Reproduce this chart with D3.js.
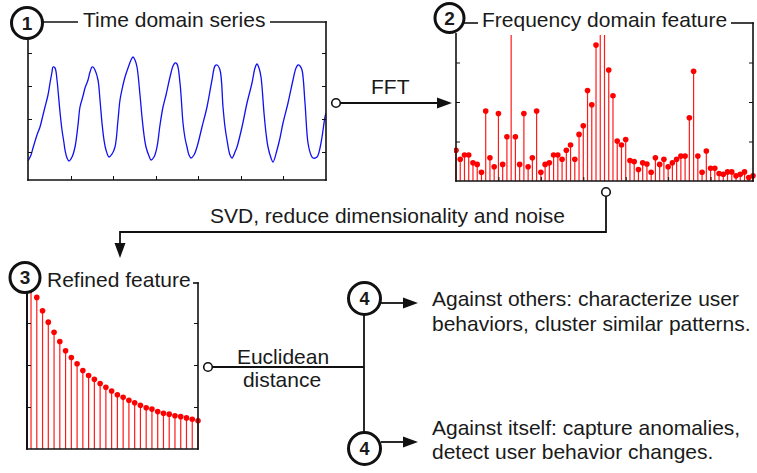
<!DOCTYPE html>
<html><head><meta charset="utf-8">
<script src="https://cdn.jsdelivr.net/npm/d3@7"></script>
<style>
body{margin:0;background:#fff}
svg{display:block}
text{font-family:"Liberation Sans",Arial,Helvetica,sans-serif;fill:#1a1a1a}
</style>
</head><body>
<svg id="c" width="757" height="473"></svg>
<script>
// ---------- data ----------
// Panel 1: time domain series (sample index, amplitude)
const timeSeries = [
[0,19],[3,25],[5,32],[9,45],[12,53],[15,65],[17,73],[20,85],[22,97],[24,108],[25,113],[27,112],[29,100],[30,90],[32,68],[34,50],[36,37],[37,30],[39,22],[41,19],
[44,23],[47,33],[50,55],[52,73],[55,84],[57,92],[60,100],[62,108],[64,113],[65,113],[67,110],[70,100],[72,80],[74,57],[76,40],[78,30],[81,23],
[84,26],[87,33],[90,60],[92,80],[95,95],[97,103],[100,112],[103,120],[105,123],[107,120],[109,113],[112,85],[114,63],[116,45],[118,33],[121,24],[123,20],
[126,23],[129,33],[132,55],[135,73],[138,85],[142,103],[145,114],[147,117],[149,116],[152,97],[155,57],[157,42],[159,33],[161,25],[163,22],
[166,25],[169,33],[174,53],[179,73],[184,100],[187,114],[189,115],[192,110],[195,73],[197,53],[199,40],[202,25],[204,22],
[207,28],[209,33],[214,53],[219,77],[224,97],[227,112],[229,116],[231,112],[233,103],[236,67],[238,47],[240,33],[243,22],[245,18],
[249,30],[252,42],[255,57],[260,77],[265,100],[268,112],[270,115],[272,114],[274,110],[277,77],[280,37],[283,25],[285,22],
[289,23],[292,32],[294,43],[297,63],[298,67]
];
const timeTicksX = [43, 85, 128, 170, 213, 255];
const timeTicksY = [28, 61, 94, 127];

// Panel 2: frequency domain feature (FFT magnitude per bin)
const freqValues = [
0.78,0.55,0.66,0.66,0.46,0.42,0.22,1.77,0.59,0.36,1.71,0.42,1.12,4.6,1.12,0.42,1.71,0.36,0.59,1.77,
0.22,0.42,0.46,0.66,0.66,0.55,0.78,0.91,0.55,1.18,1.40,2.29,1.93,3.44,5.5,5.0,2.81,2.16,1.01,0.91,
1.05,0.52,0.49,0.29,0.46,0.43,0.22,0.59,0.42,0.55,0.36,0.46,0.55,0.63,0.63,1.60,2.78,0.63,0.22,0.76,
0.32,0.32,0.19,0.17,0.23,0.23,0.13,0.17,0.23,0.09,0.13
];
const freqTicksX = [10, 20, 30, 40, 50, 60];
const freqTicksY = [1, 2, 3];

// Panel 3: refined feature (singular values)
const refinedValues = [
3.86,3.61,3.29,3.02,2.78,2.56,2.34,2.18,2.03,1.87,1.75,1.66,1.56,1.47,1.38,
1.29,1.23,1.16,1.10,1.04,0.98,0.95,0.89,0.85,0.83,0.79,0.77,0.74,0.71,0.67
];
const refinedTicksY = [1, 2, 3];

// Text labels
const titles = ["Time domain series", "Frequency domain feature", "Refined feature"];
const stepLabels = ["1", "2", "3", "4"];
const fftLabel = "FFT";
const svdLabel = "SVD, reduce dimensionality and noise";
const distLabel = ["Euclidean", "distance"];
const othersText = ["Against others: characterize user", "behaviors, cluster similar patterns."];
const itselfText = ["Against itself: capture anomalies,", "detect user behavior changes."];

// ---------- drawing ----------
const svg = d3.select("#c");
const defs = svg.append("defs");
const INK = "#111";

function frameLine(x1, y1, x2, y2, w) {
  svg.append("line").attr("x1", x1).attr("y1", y1).attr("x2", x2).attr("y2", y2)
    .attr("stroke", INK).attr("stroke-width", w || 1.6);
}
function inwardAxis(axisFn, scale, ticks, tx, ty) {
  const g = svg.append("g").attr("transform", `translate(${tx},${ty})`)
    .call(axisFn(scale).tickValues(ticks).tickSizeInner(-4).tickSizeOuter(0).tickFormat(""));
  g.select(".domain").remove();
  g.selectAll("line").attr("stroke", INK).attr("stroke-width", 1);
}
function stepCircle(cx, cy, r, label, fs) {
  svg.append("circle").attr("cx", cx).attr("cy", cy).attr("r", r)
    .attr("fill", "#fff").attr("stroke", INK).attr("stroke-width", 3);
  svg.append("text").attr("x", cx).attr("y", cy).attr("dy", "0.36em")
    .attr("text-anchor", "middle").attr("font-weight", "bold").attr("font-size", fs)
    .text(label);
}
function smallCircle(cx, cy) {
  svg.append("circle").attr("cx", cx).attr("cy", cy).attr("r", 4.3)
    .attr("fill", "#fff").attr("stroke", INK).attr("stroke-width", 1.6);
}
function arrowHead(x, y, dir) {
  const L = 15, W = 5.5;
  let pts;
  if (dir === "right") pts = [[x, y], [x - L, y - W], [x - L, y + W]];
  else pts = [[x, y], [x - W, y - L], [x + W, y - L]];
  svg.append("polygon").attr("points", pts.map(p => p.join(",")).join(" ")).attr("fill", INK);
}
function label(x, y, txt, opts) {
  const t = svg.append("text").attr("x", x).attr("y", y).attr("font-size", (opts && opts.fs) || 21).text(txt);
  if (opts && opts.anchor) t.attr("text-anchor", opts.anchor);
  return t;
}

// ===== Panel 1 =====
const x1 = d3.scaleLinear().domain([0, 298]).range([28, 326]);
const y1 = d3.scaleLinear().domain([0, 158]).range([180, 22]);
defs.append("clipPath").attr("id", "clip1").append("rect").attr("x", 28).attr("y", 22).attr("width", 298).attr("height", 158);
svg.append("path").datum(timeSeries)
  .attr("clip-path", "url(#clip1)")
  .attr("d", d3.line().x(d => x1(d[0])).y(d => y1(d[1])).curve(d3.curveCatmullRom.alpha(0.5)))
  .attr("fill", "none").attr("stroke", "#1010f0").attr("stroke-width", 1.3);
inwardAxis(d3.axisLeft, y1, timeTicksY, 28, 0);
inwardAxis(d3.axisRight, y1, timeTicksY, 326, 0);
inwardAxis(d3.axisBottom, x1, timeTicksX, 0, 180);
frameLine(28, 38, 28, 180.8);
frameLine(27.2, 180, 326.8, 180);
frameLine(326, 21.2, 326, 180.8);
frameLine(42, 22, 78, 22);
frameLine(270, 22, 326.8, 22);
label(83, 27, titles[0]);
stepCircle(27, 23, 15.5, stepLabels[0], 19);

// ===== Panel 2 =====
const x2 = d3.scaleLinear().domain([0, 70]).range([456, 753]);
const y2 = d3.scaleLinear().domain([0, 4]).range([181, 23]);
defs.append("clipPath").attr("id", "clip2").append("rect").attr("x", 454).attr("y", 35).attr("width", 302).attr("height", 146);
const g2 = svg.append("g").attr("clip-path", "url(#clip2)");
g2.selectAll("line.stem").data(freqValues).join("line").attr("class", "stem")
  .attr("x1", (d, i) => x2(i)).attr("x2", (d, i) => x2(i))
  .attr("y1", y2(0)).attr("y2", d => y2(d))
  .attr("stroke", "#ff1a1a").attr("stroke-width", 1.2);
g2.selectAll("circle.dot").data(freqValues).join("circle").attr("class", "dot")
  .attr("cx", (d, i) => x2(i)).attr("cy", d => y2(d)).attr("r", 2.8).attr("fill", "#ff0000");
inwardAxis(d3.axisLeft, y2, freqTicksY, 456, 0);
inwardAxis(d3.axisRight, y2, freqTicksY, 753, 0);
inwardAxis(d3.axisBottom, x2, freqTicksX, 0, 181);
frameLine(456, 33, 456, 181.8);
frameLine(455.2, 181, 753.8, 181);
frameLine(753, 22.2, 753, 181.8);
frameLine(464, 23, 478, 23);
frameLine(731, 23, 753.8, 23);
label(482, 27, titles[1]);
stepCircle(449.5, 18, 14.5, stepLabels[1], 19);

// ===== Panel 3 =====
const x3 = d3.scaleLinear().domain([0.3, 30]).range([27, 198]);
const y3 = d3.scaleLinear().domain([0, 4]).range([449, 281]);
defs.append("clipPath").attr("id", "clip3").append("rect").attr("x", 25).attr("y", 281).attr("width", 176).attr("height", 168);
const g3 = svg.append("g").attr("clip-path", "url(#clip3)");
g3.selectAll("line.stem").data(refinedValues).join("line").attr("class", "stem")
  .attr("x1", (d, i) => x3(i + 1)).attr("x2", (d, i) => x3(i + 1))
  .attr("y1", y3(0)).attr("y2", d => y3(d))
  .attr("stroke", "#ff1a1a").attr("stroke-width", 1.2);
g3.selectAll("circle.dot").data(refinedValues).join("circle").attr("class", "dot")
  .attr("cx", (d, i) => x3(i + 1)).attr("cy", d => y3(d)).attr("r", 2.8).attr("fill", "#ff0000");
inwardAxis(d3.axisLeft, y3, refinedTicksY, 27, 0);
inwardAxis(d3.axisRight, y3, refinedTicksY, 198, 0);
frameLine(27, 290, 27, 449.8, 2);
frameLine(26.2, 449, 198.8, 449);
frameLine(198, 282.2, 198, 449.8);
frameLine(193, 283, 198.8, 283);
label(47, 287, titles[2]);
stepCircle(25, 277.5, 15, stepLabels[2], 19);

// ===== Connectors =====
// FFT arrow
smallCircle(336, 103);
frameLine(340.3, 103, 440, 103, 1.8);
arrowHead(452, 103, "right");
label(371, 94, fftLabel);

// SVD connector
smallCircle(606, 192);
svg.append("path").attr("d", "M606,196.3 V232 H120 V246")
  .attr("fill", "none").attr("stroke", INK).attr("stroke-width", 1.8);
arrowHead(120, 258, "down");
label(210, 223, svgSafe(svdLabel));
function svgSafe(s) { return s; }

// Euclidean distance connector
smallCircle(208, 367);
frameLine(212.3, 367, 364, 367, 1.8);
frameLine(364, 314, 364, 433, 1.8);
label(283, 364, distLabel[0], {anchor: "middle"});
label(282, 387, distLabel[1], {anchor: "middle"});

// Step 4 branches
stepCircle(364.5, 298.5, 16, stepLabels[3], 18);
stepCircle(364.5, 448.5, 16, stepLabels[3], 18);
frameLine(381, 303, 406, 303, 1.8);
arrowHead(418, 303, "right");
frameLine(381, 442, 406, 442, 1.8);
arrowHead(418, 442, "right");

label(432, 306, othersText[0]);
label(432, 331, othersText[1]);
label(432, 435, itselfText[0]);
label(432, 459, itselfText[1]);
</script>
</body></html>
